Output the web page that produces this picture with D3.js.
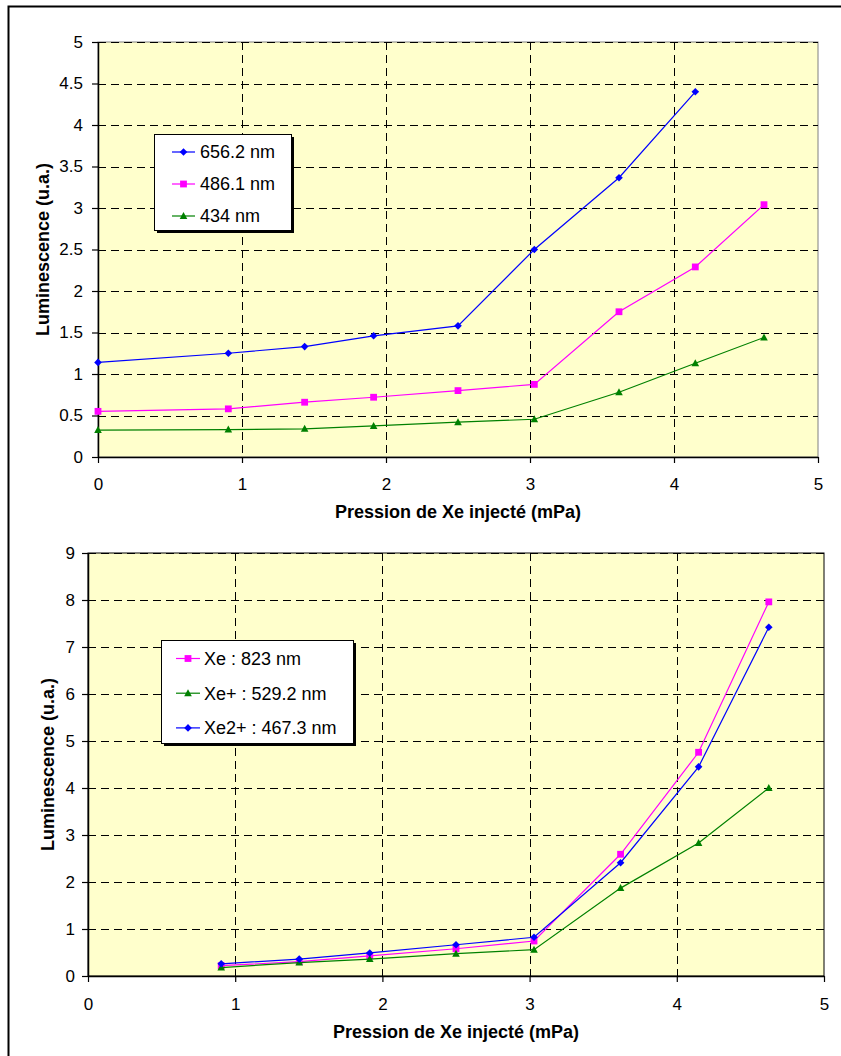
<!DOCTYPE html>
<html><head><meta charset="utf-8">
<script src="https://cdn.jsdelivr.net/npm/d3@7/dist/d3.min.js"></script>
<style>body{margin:0;background:#fff}text{font-family:Arial,"Liberation Sans",sans-serif;fill:#000}</style>
</head><body>
<svg id="c" width="841" height="1056"></svg>
<script>
// ---------- data ----------
const pressureTop = [0, 0.905, 1.435, 1.914, 2.5, 3.03, 3.618, 4.148, 4.625];
const h656 = [1.14, 1.25, 1.33, 1.46, 1.58, 2.50, 3.365, 4.40];
const h486 = [0.55, 0.58, 0.66, 0.72, 0.80, 0.875, 1.75, 2.29, 3.04];
const h434 = [0.325, 0.33, 0.34, 0.375, 0.42, 0.455, 0.78, 1.13, 1.44];
const topNames = ["656.2 nm", "486.1 nm", "434 nm"];

const pressureBot = [0.905, 1.435, 1.914, 2.5, 3.03, 3.618, 4.148, 4.625];
const xe823 = [0.22, 0.305, 0.43, 0.58, 0.745, 2.59, 4.76, 7.96];
const xePlus529 = [0.18, 0.285, 0.36, 0.475, 0.56, 1.87, 2.83, 4.0];
const xe2Plus467 = [0.26, 0.36, 0.49, 0.665, 0.825, 2.41, 4.45, 7.42];
const botNames = ["Xe : 823 nm", "Xe+ : 529.2 nm", "Xe2+ : 467.3 nm"];

const xTicks = [0, 1, 2, 3, 4, 5];
const yTicksTop = [0, 0.5, 1, 1.5, 2, 2.5, 3, 3.5, 4, 4.5, 5];
const yTicksBot = [0, 1, 2, 3, 4, 5, 6, 7, 8, 9];
const xTitle = "Pression de Xe injecté (mPa)";
const yTitle = "Luminescence (u.a.)";

const BLUE = "#0000FF", PINK = "#FF00FF", GREEN = "#008000";

const svg = d3.select("#c");

// outer frame
svg.append("rect").attr("x", 8.5).attr("y", 6.5).attr("width", 900).attr("height", 1100)
  .attr("fill", "none").attr("stroke", "#000").attr("stroke-width", 2);

function marker(g, type, x, y, color) {
  if (type === "diamond") {
    g.append("path").attr("d", `M${x},${y-3.8}L${x+3.8},${y}L${x},${y+3.8}L${x-3.8},${y}Z`).attr("fill", color);
  } else if (type === "square") {
    g.append("rect").attr("x", x-3.4).attr("y", y-3.4).attr("width", 6.8).attr("height", 6.8).attr("fill", color);
  } else {
    g.append("path").attr("d", `M${x},${y-4}L${x+3.8},${y+3}L${x-3.8},${y+3}Z`).attr("fill", color);
  }
}

function chart(opt) {
  const {x0, x1, y0, y1, yMax, yTicks, series, xs, borderColor, yPad, xPad, legend, yTitleX, xTitleY} = opt;
  const x = d3.scaleLinear().domain([0, 5]).range([x0, x1]);
  const y = d3.scaleLinear().domain([0, yMax]).range([y1, y0]);
  const g = svg.append("g");
  // plot area
  g.append("rect").attr("x", x0).attr("y", y0).attr("width", x1 - x0).attr("height", y1 - y0)
    .attr("fill", "#FFFFCC").attr("stroke", borderColor).attr("stroke-width", 1);
  // gridlines
  g.append("g").selectAll("line").data(yTicks.filter(d => d > 0)).join("line")
    .attr("x1", x0).attr("x2", x1).attr("y1", d => Math.round(y(d)) + 0.5).attr("y2", d => Math.round(y(d)) + 0.5)
    .attr("stroke", "#000").attr("stroke-dasharray", "8,5").attr("stroke-width", 1);
  g.append("g").selectAll("line").data(xTicks.filter(d => d > 0 && d < 5)).join("line")
    .attr("y1", y0).attr("y2", y1).attr("x1", d => Math.round(x(d)) + 0.5).attr("x2", d => Math.round(x(d)) + 0.5)
    .attr("stroke", "#000").attr("stroke-dasharray", "8,5").attr("stroke-width", 1);
  // axes
  const fmt = d => String(+d.toFixed(1));
  const ya = g.append("g").attr("transform", `translate(${x0},0)`)
    .call(d3.axisLeft(y).tickValues(yTicks).tickFormat(fmt).tickSize(6).tickPadding(yPad).tickSizeOuter(0));
  const xa = g.append("g").attr("transform", `translate(0,${y1})`)
    .call(d3.axisBottom(x).tickValues(xTicks).tickFormat(fmt).tickSize(6).tickPadding(xPad).tickSizeOuter(0));
  [ya, xa].forEach(a => {
    a.selectAll("text").style("font-size", "17px").attr("fill", "#000");
    a.selectAll("line").attr("stroke", "#000").attr("stroke-width", 1.2);
    a.select(".domain").attr("stroke", "#000").attr("stroke-width", 1.5);
  });
  // titles
  g.append("text").attr("x", (x0 + x1) / 2).attr("y", xTitleY).attr("text-anchor", "middle")
    .style("font-size", "18px").style("font-weight", "bold").text(xTitle);
  g.append("text").attr("transform", `translate(${yTitleX},${(y0 + y1) / 2}) rotate(-90)`).attr("text-anchor", "middle")
    .style("font-size", "18px").style("font-weight", "bold").text(yTitle);
  // series
  const line = d3.line().x(d => x(d[0])).y(d => y(d[1]));
  series.forEach(s => {
    const pts = s.values.map((v, i) => [xs[i], v]);
    g.append("path").attr("d", line(pts)).attr("fill", "none").attr("stroke", s.color).attr("stroke-width", 1.2);
    pts.forEach(p => marker(g, s.marker, x(p[0]), y(p[1]), s.color));
  });
  // legend
  const L = legend;
  const lg = svg.append("g");
  lg.append("rect").attr("x", L.x + 3).attr("y", L.y + 3).attr("width", L.w).attr("height", L.h).attr("fill", "#000");
  lg.append("rect").attr("x", L.x + 0.5).attr("y", L.y + 0.5).attr("width", L.w).attr("height", L.h)
    .attr("fill", "#fff").attr("stroke", "#000").attr("stroke-width", 1);
  L.order.forEach((si, i) => {
    const s = series[si];
    const cy = L.firstY + i * L.step;
    lg.append("line").attr("x1", L.lx0).attr("x2", L.lx1).attr("y1", cy).attr("y2", cy).attr("stroke", s.color).attr("stroke-width", 1.2);
    marker(lg, s.marker, (L.lx0 + L.lx1) / 2, cy, s.color);
    lg.append("text").attr("x", L.tx).attr("y", cy).attr("dy", "0.36em").style("font-size", "18px").text(s.name);
  });
}

chart({
  x0: 98, x1: 818, y0: 42, y1: 457, yMax: 5, yTicks: yTicksTop, xs: pressureTop,
  borderColor: "#808080", yPad: 9, xPad: 15, yTitleX: 49, xTitleY: 518,
  series: [
    {name: topNames[0], values: h656, color: BLUE, marker: "diamond"},
    {name: topNames[1], values: h486, color: PINK, marker: "square"},
    {name: topNames[2], values: h434, color: GREEN, marker: "triangle"}
  ],
  legend: {x: 154, y: 134, w: 137, h: 96, lx0: 172, lx1: 195, tx: 200, firstY: 152, step: 32, order: [0, 1, 2]}
});

chart({
  x0: 88, x1: 824, y0: 553, y1: 976, yMax: 9, yTicks: yTicksBot, xs: pressureBot,
  borderColor: "#000", yPad: 7, xPad: 16, yTitleX: 54, xTitleY: 1038,
  series: [
    {name: botNames[0], values: xe823, color: PINK, marker: "square"},
    {name: botNames[1], values: xePlus529, color: GREEN, marker: "triangle"},
    {name: botNames[2], values: xe2Plus467, color: BLUE, marker: "diamond"}
  ],
  legend: {x: 161, y: 640, w: 192, h: 103, lx0: 176, lx1: 200, tx: 204, firstY: 658.5, step: 34.7, order: [0, 1, 2]}
});
</script>
</body></html>
